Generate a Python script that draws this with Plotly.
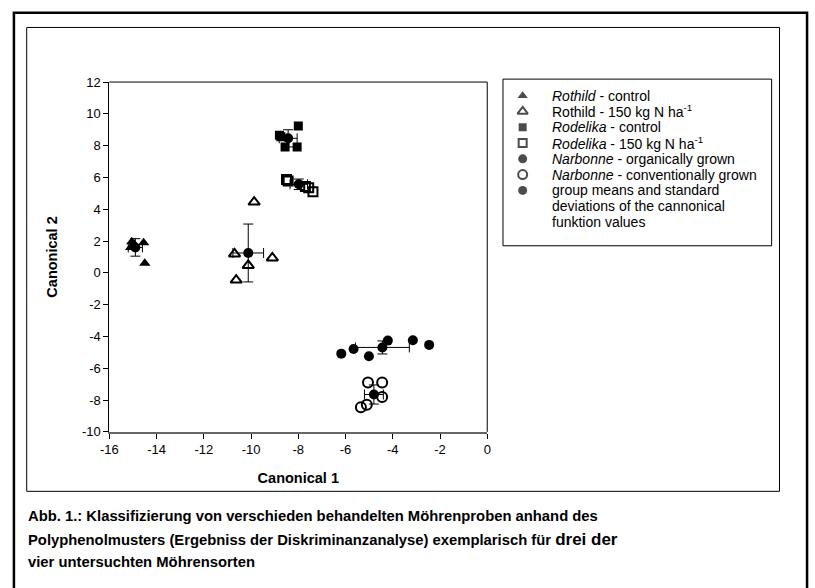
import plotly.graph_objects as go

# ---- data ----
rc_x = [-15.05, -14.55, -14.5, -15.1, -14.95]
rc_y = [1.95, 1.9, 0.6, 1.6, 1.8]
r150_x = [-10.70, -9.10, -10.12, -10.63, -9.87]
r150_y = [1.19, 0.94, 0.47, -0.45, 4.45]
rdc_x = [-8.00, -8.74, -8.56, -8.05, -8.80]
rdc_y = [9.24, 8.56, 7.91, 7.91, 8.65]
rd150_x = [-8.50, -8.43, -7.70, -7.56, -7.38]
rd150_y = [5.87, 5.77, 5.43, 5.36, 5.10]
no_x = [-6.18, -5.66, -5.01, -4.21, -3.15, -2.46]
no_y = [-5.08, -4.79, -5.24, -4.26, -4.24, -4.53]
nc_x = [-5.05, -4.45, -4.45, -5.10, -5.35]
nc_y = [-6.90, -6.90, -7.80, -8.30, -8.45]

mean_x = [-14.9, -10.12, -8.43, -7.98, -4.44, -4.80]
mean_y = [1.6, 1.25, 8.46, 5.57, -4.69, -7.65]
err_x = [0.3, 0.65, 0.38, 0.37, 1.14, 0.40]
err_y = [0.55, 1.82, 0.54, 0.33, 0.41, 0.60]

x_ticks = [-16, -14, -12, -10, -8, -6, -4, -2, 0]
y_ticks = [-10, -8, -6, -4, -2, 0, 2, 4, 6, 8, 10, 12]

legend_lines = [
    ["<i>Rothild</i> - control"],
    ["Rothild - 150 kg N ha<sup>-1</sup>"],
    ["<i>Rodelika</i> - control"],
    ["<i>Rodelika</i> - 150 kg N ha<sup>-1</sup>"],
    ["<i>Narbonne</i> - organically grown"],
    ["<i>Narbonne</i> - conventionally grown"],
    ["group means and standard", "deviations of the cannonical", "funktion values"],
]

caption = [
    "<b>Abb. 1.: Klassifizierung von verschieden behandelten Möhrenproben anhand des</b>",
    "<b>Polyphenolmusters (Ergebniss der Diskriminanzanalyse) exemplarisch für "
    "<span style='font-size:17px'>drei der</span></b>",
    "<b>vier untersuchten Möhrensorten</b>",
]

FONT = "Liberation Sans, Arial, sans-serif"
W, H = 815, 588
L, R, T, B = 102, 486, 77, 436  # plot area in pixels


def fx(p):
    return p / W


def fy(p):
    return 1 - p / H


styles = [
    dict(symbol="triangle-up", size=10, lw=0),
    dict(symbol="triangle-up-open", size=10, lw=2),
    dict(symbol="square", size=9, lw=0),
    dict(symbol="square-open", size=9, lw=2),
    dict(symbol="circle", size=10, lw=0),
    dict(symbol="circle-open", size=10, lw=2),
    dict(symbol="circle", size=10, lw=0),
]
groups = [(rc_x, rc_y), (r150_x, r150_y), (rdc_x, rdc_y), (rd150_x, rd150_y),
          (no_x, no_y), (nc_x, nc_y)]

fig = go.Figure()
for (gx, gy), st, lines in zip(groups, styles, legend_lines):
    fig.add_trace(go.Scatter(
        x=gx, y=gy, mode="markers", name=lines[0], showlegend=False,
        marker=dict(symbol=st["symbol"], size=st["size"], color="black",
                    line=dict(color="black", width=st["lw"])),
    ))

fig.add_trace(go.Scatter(
    x=mean_x, y=mean_y, mode="markers", name="group means", showlegend=False,
    marker=dict(symbol="circle", size=10, color="black"),
    error_x=dict(type="data", array=err_x, color="black", thickness=1, width=5),
    error_y=dict(type="data", array=err_y, color="black", thickness=1, width=5),
))

# ---- legend drawn on a small helper axis ----
ROW0, ROWH = 91, 16.2
n_rows = sum(len(l) for l in legend_lines)
row_of_entry = []
r = 0
for lines in legend_lines:
    row_of_entry.append(r)
    r += len(lines)

leg_top = ROW0 - ROWH / 2
leg_bot = ROW0 + ROWH * (n_rows - 0.5)
fig.add_trace(go.Scatter(
    x=[0] * len(legend_lines), y=row_of_entry, mode="markers", showlegend=False,
    xaxis="x2", yaxis="y2", hoverinfo="skip",
    marker=dict(symbol=[s["symbol"] for s in styles],
                size=[s["size"] - 1 for s in styles], color="black",
                line=dict(color="black", width=[s["lw"] for s in styles])),
))

annotations = []
r = 0
for lines in legend_lines:
    for ln in lines:
        annotations.append(dict(
            xref="paper", yref="paper", x=fx(550), y=fy(ROW0 + ROWH * r),
            xanchor="left", yanchor="middle", showarrow=False, text=ln,
            font=dict(family=FONT, size=14, color="black")))
        r += 1

for i, txt in enumerate(caption):
    annotations.append(dict(
        xref="paper", yref="paper", x=fx(17), y=fy(522 + 24 * i),
        xanchor="left", yanchor="middle", showarrow=False, align="left",
        text=txt, font=dict(family=FONT, size=14.8, color="black")))

shapes = [
    dict(type="rect", xref="paper", yref="paper", x0=fx(5), x1=fx(811), y0=fy(600), y1=fy(6),
         line=dict(color="black", width=2.5), layer="below"),
    dict(type="rect", xref="paper", yref="paper", x0=fx(18), x1=fx(783), y0=fy(497), y1=fy(21),
         line=dict(color="black", width=1), layer="below"),
    dict(type="rect", xref="paper", yref="paper", x0=fx(502), x1=fx(775), y0=fy(245), y1=fy(74),
         line=dict(color="black", width=1), layer="below"),
    dict(type="line", xref="x domain", yref="y domain", x0=0, x1=1, y0=1, y1=1,
         line=dict(color="black", width=1)),
    dict(type="line", xref="x domain", yref="y domain", x0=1, x1=1, y0=0, y1=1,
         line=dict(color="black", width=1)),
]

fig.update_layout(
    width=W, height=H,
    margin=dict(l=0, r=0, t=0, b=0, pad=0),
    paper_bgcolor="white", plot_bgcolor="white",
    font=dict(family=FONT, size=13, color="black"),
    shapes=shapes, annotations=annotations, showlegend=False,
    xaxis=dict(
        domain=[fx(L), fx(R)], range=[-16, 0], tickvals=x_ticks,
        ticktext=[str(v) for v in x_ticks],
        showgrid=False, zeroline=False, showline=True, linecolor="#666", linewidth=2,
        ticks="outside", ticklen=5, tickcolor="black", tickwidth=1,
        tickfont=dict(size=13),
        title=dict(text="<b>Canonical 1</b>", font=dict(size=14.5), standoff=16),
    ),
    yaxis=dict(
        domain=[fy(B), fy(T)], range=[-10, 12], tickvals=y_ticks,
        ticktext=[str(v) for v in y_ticks],
        showgrid=False, zeroline=False, showline=True, linecolor="black", linewidth=1,
        ticks="outside", ticklen=5, tickcolor="black", tickwidth=1,
        tickfont=dict(size=13),
        title=dict(text="<b>Canonical 2</b>", font=dict(size=14.5), standoff=20),
    ),
    xaxis2=dict(domain=[fx(512), fx(532)], range=[-1, 1], visible=False, fixedrange=True,
                anchor="y2"),
    yaxis2=dict(domain=[fy(leg_bot), fy(leg_top)], range=[n_rows - 0.5, -0.5],
                visible=False, fixedrange=True, anchor="x2"),
)

fig.write_html("out.html", config={"displayModeBar": False},
               post_script="document.body.style.margin='0px';")
